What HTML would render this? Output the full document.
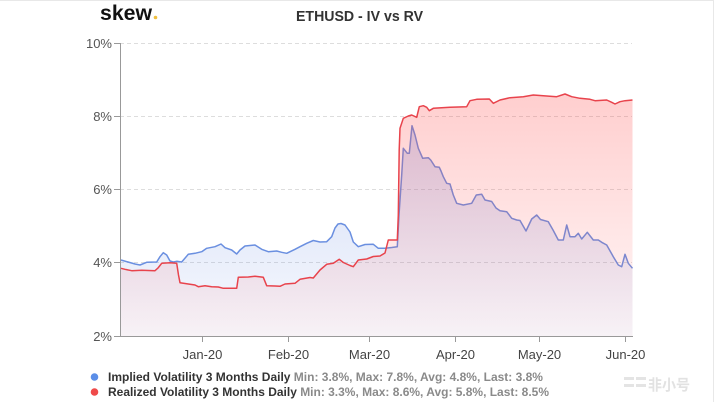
<!DOCTYPE html>
<html><head><meta charset="utf-8">
<style>
html,body{margin:0;padding:0;background:#fff;}
body{width:720px;height:402px;overflow:hidden;position:relative;}
svg{display:block;}
</style></head>
<body>
<svg width="720" height="402" viewBox="0 0 720 402" xmlns="http://www.w3.org/2000/svg" font-family="'Liberation Sans', Arial, sans-serif">
<defs>
<linearGradient id="gb" gradientUnits="userSpaceOnUse" x1="0" y1="110" x2="0" y2="336">
<stop offset="0" stop-color="rgb(100,135,225)" stop-opacity="0.3"/>
<stop offset="1" stop-color="rgb(100,135,225)" stop-opacity="0.05"/>
</linearGradient>
<linearGradient id="gr" gradientUnits="userSpaceOnUse" x1="0" y1="95" x2="0" y2="336">
<stop offset="0" stop-color="rgb(255,75,75)" stop-opacity="0.27"/>
<stop offset="1" stop-color="rgb(255,75,75)" stop-opacity="0.04"/>
</linearGradient>
</defs>
<rect x="0" y="0" width="720" height="402" fill="#fff"/>
<line x1="0" y1="0.5" x2="714" y2="0.5" stroke="#e8e8e8"/>
<line x1="713.5" y1="0" x2="713.5" y2="402" stroke="#e8e8e8"/>

<!-- logo -->
<text x="100" y="20" font-size="21" font-weight="bold" fill="#111" textLength="52" lengthAdjust="spacingAndGlyphs">skew</text>
<circle cx="155.5" cy="17.5" r="1.8" fill="#f0c040"/>
<!-- title -->
<text x="359.5" y="21" font-size="15" font-weight="bold" fill="#333" text-anchor="middle" textLength="127" lengthAdjust="spacingAndGlyphs">ETHUSD - IV vs RV</text>

<!-- grid -->
<g stroke="#dddddd" stroke-dasharray="4,3" stroke-width="1">
<line x1="120" y1="43.5" x2="632" y2="43.5"/>
<line x1="120" y1="116.5" x2="632" y2="116.5"/>
<line x1="120" y1="189.5" x2="632" y2="189.5"/>
<line x1="120" y1="262.5" x2="632" y2="262.5"/>
</g>

<!-- blue fill -->
<polygon fill="url(#gb)" points="121,336 121,260 128,262 135,264 140,265 146.7,262.3 156.7,262 160,256.7 163.3,252.7 166.7,255 170,261 173.3,262 176.7,261.3 181.7,262 188.3,254.3 195,253.3 201.7,251.7 206.7,248.3 215,246.7 221,244 225,247.7 231.7,250 236.7,254 240,250 245,246 255,245 261.7,249.3 268.3,251.7 276.7,251 281.7,252.3 286.7,253.3 295,249.3 300,246.7 306.7,243.3 313.3,240.5 320,242 326.7,241.7 331.7,236.7 335,228 338,224 341,223.5 345,225 350,232 353.3,242 358.3,246.7 365,244.5 373.3,244.3 378.3,248.3 385,248.3 391.7,247.5 397.3,246.7 399,215 401.7,175 403.3,148.3 407.3,153.3 409.3,153.3 412,125.7 415,135 418.3,148.3 422.7,158.3 428.3,157.7 430.7,160 435,166.7 439.3,167.3 441,171 443.3,176.7 446.7,183.3 450,184 453.3,195 456.7,203.3 463.3,205 471.7,203.3 476.3,195 481.7,194.3 485,200 491.7,201.5 496,208 500,210.7 506.7,211.7 511.7,218.3 516.7,220 520,220.5 526,231 531.7,219 536.7,215 540.5,219.5 548.3,221.7 553.3,230.5 558.3,240 563.3,240 566.7,225 570,236.7 575,236.7 578.3,233.3 581.7,239 587.3,232.3 593.3,240 598.3,240 601.7,242.3 606.7,245 613.3,256.7 618.3,265 621.7,266.7 625,254.3 628.3,263.3 632.5,268.3 632.5,336"/>
<!-- blue line -->
<polyline fill="none" stroke="#6a8fe0" stroke-width="1.5" stroke-linejoin="round" points="121,260 128,262 135,264 140,265 146.7,262.3 156.7,262 160,256.7 163.3,252.7 166.7,255 170,261 173.3,262 176.7,261.3 181.7,262 188.3,254.3 195,253.3 201.7,251.7 206.7,248.3 215,246.7 221,244 225,247.7 231.7,250 236.7,254 240,250 245,246 255,245 261.7,249.3 268.3,251.7 276.7,251 281.7,252.3 286.7,253.3 295,249.3 300,246.7 306.7,243.3 313.3,240.5 320,242 326.7,241.7 331.7,236.7 335,228 338,224 341,223.5 345,225 350,232 353.3,242 358.3,246.7 365,244.5 373.3,244.3 378.3,248.3 385,248.3 391.7,247.5 397.3,246.7 399,215 401.7,175 403.3,148.3 407.3,153.3 409.3,153.3 412,125.7 415,135 418.3,148.3 422.7,158.3 428.3,157.7 430.7,160 435,166.7 439.3,167.3 441,171 443.3,176.7 446.7,183.3 450,184 453.3,195 456.7,203.3 463.3,205 471.7,203.3 476.3,195 481.7,194.3 485,200 491.7,201.5 496,208 500,210.7 506.7,211.7 511.7,218.3 516.7,220 520,220.5 526,231 531.7,219 536.7,215 540.5,219.5 548.3,221.7 553.3,230.5 558.3,240 563.3,240 566.7,225 570,236.7 575,236.7 578.3,233.3 581.7,239 587.3,232.3 593.3,240 598.3,240 601.7,242.3 606.7,245 613.3,256.7 618.3,265 621.7,266.7 625,254.3 628.3,263.3 632.5,268.3"/>

<!-- red fill -->
<polygon fill="url(#gr)" points="121,336 121,268.3 125,269.3 131.7,270.7 141.7,270.3 155,270.7 158,268 161.7,263.3 170,262.7 176.7,263.3 178.5,275 180,282.7 188.3,284 195,285 198.3,286.7 205,285.7 211.7,286.7 218.3,287 223.3,288.3 236.7,288.3 238.3,277.3 248.3,277 255,276.3 263.3,277.3 266.7,285.7 275,286 280,286.3 285,284 295,283.3 300,279.3 310,277.5 313.3,278 320,270 326.7,264.3 333.3,263.3 339.3,259.3 343.3,262.5 350,265.5 353.3,266.7 358.3,260 366.7,259 373.3,256.5 380,256 385,253 388.3,240 397.3,240 398.3,215 399.2,150 400,128.3 403.3,118.3 408.3,116 411.7,115 416.7,117.3 419.3,106.7 423.3,105.7 426.7,107.3 429.3,110.7 433.3,108.3 450,107.3 466.7,106.7 470,100.7 476.7,99.3 489.3,99 493.3,103.3 500,100 510,97.7 523.3,96.7 533.3,95 543.3,95.7 556.7,96.7 565,94 571.7,96.7 580,98.3 590,99.3 595,100.7 606.7,100 611.7,102.3 615,104 620,101.7 625,100.7 632.5,100 632.5,336"/>
<!-- red line -->
<polyline fill="none" stroke="#e8434c" stroke-width="1.5" stroke-linejoin="round" points="121,268.3 125,269.3 131.7,270.7 141.7,270.3 155,270.7 158,268 161.7,263.3 170,262.7 176.7,263.3 178.5,275 180,282.7 188.3,284 195,285 198.3,286.7 205,285.7 211.7,286.7 218.3,287 223.3,288.3 236.7,288.3 238.3,277.3 248.3,277 255,276.3 263.3,277.3 266.7,285.7 275,286 280,286.3 285,284 295,283.3 300,279.3 310,277.5 313.3,278 320,270 326.7,264.3 333.3,263.3 339.3,259.3 343.3,262.5 350,265.5 353.3,266.7 358.3,260 366.7,259 373.3,256.5 380,256 385,253 388.3,240 397.3,240 398.3,215 399.2,150 400,128.3 403.3,118.3 408.3,116 411.7,115 416.7,117.3 419.3,106.7 423.3,105.7 426.7,107.3 429.3,110.7 433.3,108.3 450,107.3 466.7,106.7 470,100.7 476.7,99.3 489.3,99 493.3,103.3 500,100 510,97.7 523.3,96.7 533.3,95 543.3,95.7 556.7,96.7 565,94 571.7,96.7 580,98.3 590,99.3 595,100.7 606.7,100 611.7,102.3 615,104 620,101.7 625,100.7 632.5,100"/>

<!-- axes -->
<line x1="120.5" y1="43" x2="120.5" y2="336" stroke="#999" stroke-width="1"/>
<line x1="120" y1="336.5" x2="633" y2="336.5" stroke="#999" stroke-width="1"/>
<g stroke="#999" stroke-width="1">
<line x1="114" y1="43.5" x2="120" y2="43.5"/>
<line x1="114" y1="116.5" x2="120" y2="116.5"/>
<line x1="114" y1="189.5" x2="120" y2="189.5"/>
<line x1="114" y1="262.5" x2="120" y2="262.5"/>
<line x1="114" y1="336.5" x2="120" y2="336.5"/>
<line x1="202.5" y1="336" x2="202.5" y2="342"/>
<line x1="288.5" y1="336" x2="288.5" y2="342"/>
<line x1="369.5" y1="336" x2="369.5" y2="342"/>
<line x1="455.5" y1="336" x2="455.5" y2="342"/>
<line x1="539.5" y1="336" x2="539.5" y2="342"/>
<line x1="625.5" y1="336" x2="625.5" y2="342"/>
</g>
<g font-size="13" fill="#555" text-anchor="end">
<text x="112" y="48">10%</text>
<text x="112" y="121">8%</text>
<text x="112" y="194">6%</text>
<text x="112" y="267">4%</text>
<text x="112" y="341">2%</text>
</g>
<g font-size="13" fill="#444" text-anchor="middle">
<text x="202.5" y="359">Jan-20</text>
<text x="288.5" y="359">Feb-20</text>
<text x="369.5" y="359">Mar-20</text>
<text x="455.5" y="359">Apr-20</text>
<text x="539.5" y="359">May-20</text>
<text x="625.5" y="359">Jun-20</text>
</g>

<!-- legend -->
<circle cx="94.5" cy="377" r="3.8" fill="#5b8ee8"/>
<circle cx="94.5" cy="392" r="3.8" fill="#ef4a4a"/>
<text x="108" y="381" font-size="12" font-weight="bold" textLength="435" lengthAdjust="spacingAndGlyphs"><tspan fill="#333">Implied Volatility 3 Months Daily</tspan><tspan fill="#8a8a8a"> Min: 3.8%, Max: 7.8%, Avg: 4.8%, Last: 3.8%</tspan></text>
<text x="108" y="396" font-size="12" font-weight="bold" textLength="441" lengthAdjust="spacingAndGlyphs"><tspan fill="#333">Realized Volatility 3 Months Daily</tspan><tspan fill="#8a8a8a"> Min: 3.3%, Max: 8.6%, Avg: 5.8%, Last: 8.5%</tspan></text>

<!-- watermark -->
<g fill="#e4e4e4">
<rect x="624" y="377" width="10" height="3"/>
<rect x="624" y="384" width="10" height="3"/>
<rect x="636" y="377" width="10" height="3"/>
<rect x="636" y="384" width="10" height="3"/>
</g>
<text x="648" y="390" font-family="'Liberation Sans','Noto Sans CJK SC',sans-serif" font-size="15" font-weight="bold" fill="#e2e2e2" textLength="42" lengthAdjust="spacingAndGlyphs">非小号</text>
</svg>
</body></html>
